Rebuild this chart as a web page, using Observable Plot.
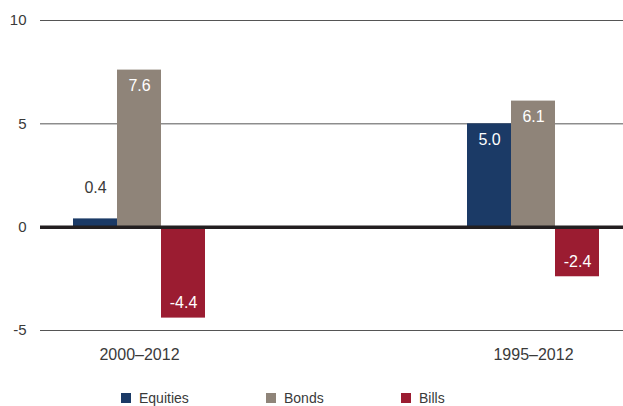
<!DOCTYPE html>
<html>
<head>
<meta charset="utf-8">
<script src="https://cdn.jsdelivr.net/npm/d3@7"></script>
<script src="https://cdn.jsdelivr.net/npm/@observablehq/plot@0.6"></script>
<style>
  body { margin: 0; background: #fff; font-family: "Liberation Sans", Arial, sans-serif; }
  #legend { position: relative; height: 36px; font-size: 14px; color: #3a3a3a; }
  .item { position: absolute; top: 22px; height: 12px; line-height: 12px; display: flex; align-items: center; }
  .sw { width: 10px; height: 10px; margin-right: 8px; }
</style>
</head>
<body>
<div id="chart"></div>
<div id="legend"></div>
<script>
const periods = ["2000–2012", "1995–2012"];
const types = ["Equities", "Bonds", "Bills"];
const equities = [0.4, 5.0];
const bonds = [7.6, 6.1];
const bills = [-4.4, -2.4];
const colors = ["#1b3a66", "#8f8479", "#9b1c31"];
const yTicks = [-5, 0, 5, 10];
const gridValues = [-5, 5, 10];

const series = [equities, bonds, bills];
const rows = [];
types.forEach((t, i) => periods.forEach((p, j) => rows.push({period: p, type: t, ti: i, value: series[i][j]})));

const W = 623, bandW = 132, sub = bandW / 3;

const marks = [
  Plot.ruleY(gridValues, {stroke: "#555", strokeWidth: 1})
];
types.forEach((t, i) => {
  const d = rows.filter(r => r.type === t);
  marks.push(Plot.barY(d, {x: "period", y: "value", fill: colors[i], insetLeft: i * sub, insetRight: (2 - i) * sub}));
  const dx = (i - 1) * sub;
  marks.push(Plot.text(d.filter(r => r.value >= 1), {x: "period", y: "value", text: r => r.value.toFixed(1), dx, dy: 16, fill: "#fff", fontSize: 16}));
  marks.push(Plot.text(d.filter(r => r.value < 0), {x: "period", y: "value", text: r => r.value.toFixed(1), dx, dy: -15, fill: "#fff", fontSize: 16}));
  marks.push(Plot.text(d.filter(r => r.value >= 0 && r.value < 1), {x: "period", y: "value", text: r => r.value.toFixed(1), dx, dy: -31, fill: "#3a3a3a", fontSize: 16}));
});
marks.push(Plot.ruleY([0], {stroke: "#231f20", strokeWidth: 3.5}));
marks.push(Plot.axisY({ticks: yTicks, tickSize: 0, tickPadding: 14, tickFormat: d => String(d), label: null, fontSize: 15}));
marks.push(Plot.axisX({tickSize: 0, tickPadding: 18, label: null, fontSize: 16}));

const chart = Plot.plot({
  width: W,
  height: 370,
  marginTop: 20,
  marginBottom: 40,
  marginLeft: 40,
  marginRight: 0,
  style: {fontFamily: "'Liberation Sans', Arial, sans-serif", color: "#3a3a3a", background: "#fff"},
  x: {domain: periods, paddingInner: 262 / 394, paddingOuter: 0.0723, align: 0.579},
  y: {domain: [-5, 10]},
  marks
});
document.getElementById("chart").appendChild(chart);

const legend = document.getElementById("legend");
const lx = [121, 266, 401];
types.forEach((t, i) => {
  const it = document.createElement("div");
  it.className = "item";
  it.style.left = lx[i] + "px";
  const sw = document.createElement("span");
  sw.className = "sw";
  sw.style.background = colors[i];
  const lab = document.createElement("span");
  lab.textContent = t;
  it.appendChild(sw); it.appendChild(lab);
  legend.appendChild(it);
});
</script>
</body>
</html>
